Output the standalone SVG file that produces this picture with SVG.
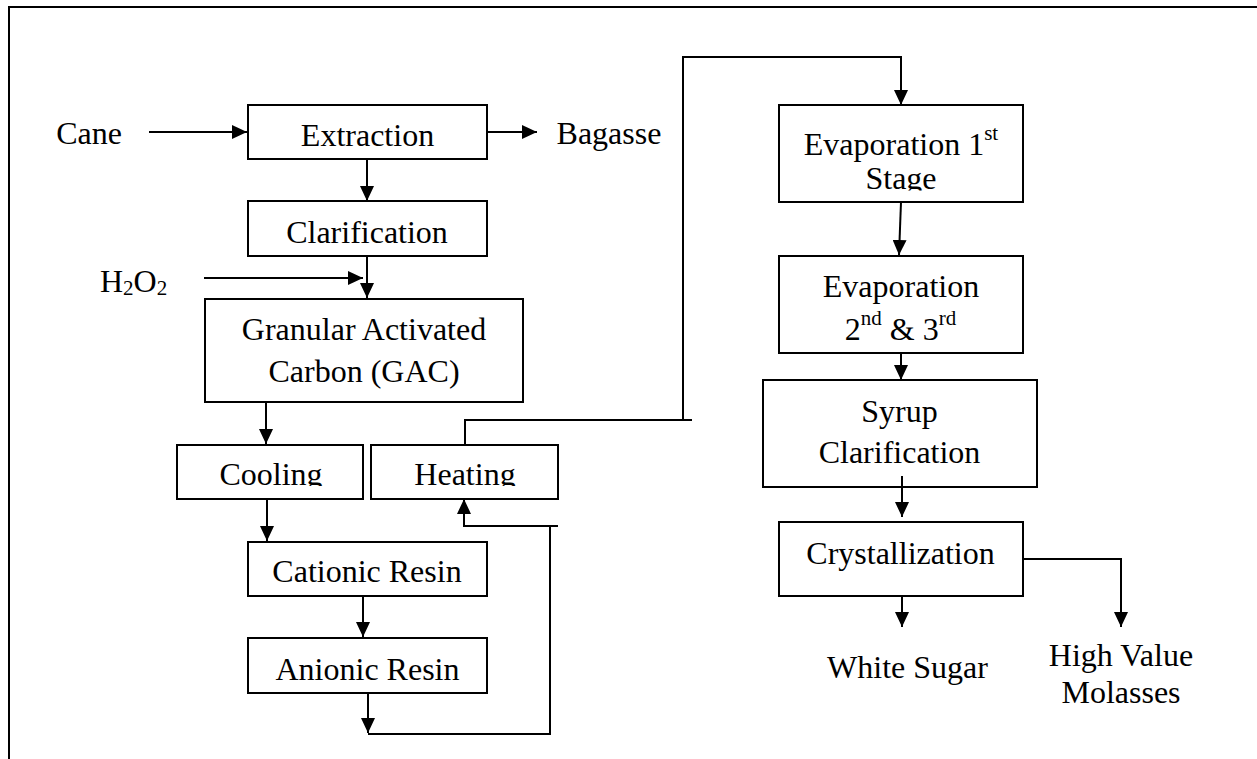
<svg xmlns="http://www.w3.org/2000/svg" width="1257" height="759" viewBox="0 0 1257 759">
<style>
  .box { fill: #ffffff; stroke: #000000; stroke-width: 2; }
  .t { font-family: "Liberation Serif", "Times New Roman", serif; font-size: 32px; fill: #000000; text-anchor: middle; }
  .sup { font-size: 21px; }
  .con { fill: none; stroke: #000000; stroke-width: 2; }
  .arr { marker-end: url(#ah); }
</style>
<defs>
  <marker id="ah" markerUnits="userSpaceOnUse" markerWidth="15" markerHeight="14" viewBox="0 0 15 14" refX="15" refY="7" orient="auto">
    <path d="M0,0 L15,7 L0,14 z" fill="#000000"/>
  </marker>
  <clipPath id="clipStage"><rect x="779" y="105" width="244" height="85.5"/></clipPath>
  <clipPath id="clipCool"><rect x="170" y="440" width="400" height="46"/></clipPath>
</defs>
<rect x="0" y="0" width="1257" height="759" fill="#ffffff"/>
<path d="M9,759 V7 H1257" fill="none" stroke="#000000" stroke-width="2"/>

<g id="cane"><text class="t" x="89" y="144">Cane</text></g>
<g id="bagasse"><text class="t" x="609" y="144">Bagasse</text></g>
<g id="h2o2"><text class="t" x="100" y="292" style="text-anchor:start">H<tspan class="sup" dy="3">2</tspan><tspan dy="-3">O</tspan><tspan class="sup" dy="3">2</tspan></text></g>

<g id="extraction"><rect class="box" x="248" y="105" width="239" height="54"/><text class="t" x="367.5" y="146">Extraction</text></g>
<g id="clarification"><rect class="box" x="248" y="201" width="239" height="55"/><text class="t" x="367" y="243">Clarification</text></g>
<g id="gac"><rect class="box" x="205" y="299" width="318" height="103"/><text class="t" x="364" y="340">Granular Activated</text><text class="t" x="364" y="381.5">Carbon (GAC)</text></g>
<g id="cooling"><rect class="box" x="177" y="445" width="186" height="54"/><text class="t" x="271" y="485" clip-path="url(#clipCool)">Cooling</text></g>
<g id="heating"><rect class="box" x="371" y="445" width="187" height="54"/><text class="t" x="465" y="485" clip-path="url(#clipCool)">Heating</text></g>
<g id="cationic"><rect class="box" x="248" y="542" width="239" height="54"/><text class="t" x="367" y="582">Cationic Resin</text></g>
<g id="anionic"><rect class="box" x="248" y="638" width="239" height="55"/><text class="t" x="367.5" y="680">Anionic Resin</text></g>

<g id="evap1"><rect class="box" x="779" y="105" width="244" height="97"/><text class="t" x="901" y="155">Evaporation 1<tspan class="sup" dy="-15">st</tspan></text><text class="t" x="901" y="189" clip-path="url(#clipStage)">Stage</text></g>
<g id="evap2"><rect class="box" x="779" y="256" width="244" height="97"/><text class="t" x="901" y="297">Evaporation</text><text class="t" x="900.5" y="340">2<tspan class="sup" dy="-15">nd</tspan><tspan dy="15"> &amp; 3</tspan><tspan class="sup" dy="-15">rd</tspan></text></g>
<g id="syrup"><rect class="box" x="763" y="380" width="274" height="107"/><text class="t" x="899.5" y="422">Syrup</text><text class="t" x="899.5" y="463">Clarification</text></g>
<g id="crystallization"><rect class="box" x="779" y="522" width="244" height="74"/><text class="t" x="900.5" y="564">Crystallization</text></g>
<g id="whitesugar"><text class="t" x="907.5" y="678">White Sugar</text></g>
<g id="molasses"><text class="t" x="1121" y="666">High Value</text><text class="t" x="1121" y="703">Molasses</text></g>

<g id="connectors">
  <path class="con arr" d="M149,132 H247"/>
  <path class="con arr" d="M487,132 H537"/>
  <path class="con arr" d="M367,159 V201"/>
  <path class="con arr" d="M367,256 V298"/>
  <path class="con arr" d="M204,278 H363"/>
  <path class="con arr" d="M266,402 V444"/>
  <path class="con arr" d="M267,499 V541"/>
  <path class="con arr" d="M363,596 V637"/>
  <path class="con arr" d="M368,693 V733"/>
  <path class="con" d="M368,734 H550 V526"/>
  <path class="con arr" d="M558,526 H464 V499"/>
  <path class="con" d="M465,445 V420 H692"/>
  <path class="con arr" d="M683,420 V57 H901 V105"/>
  <path class="con arr" d="M901,202 L899,255"/>
  <path class="con arr" d="M901,353 V380"/>
  <path class="con arr" d="M902,476 V517"/>
  <path class="con arr" d="M902,596 V627"/>
  <path class="con arr" d="M1023,559 H1121 V627"/>
</g>
</svg>
